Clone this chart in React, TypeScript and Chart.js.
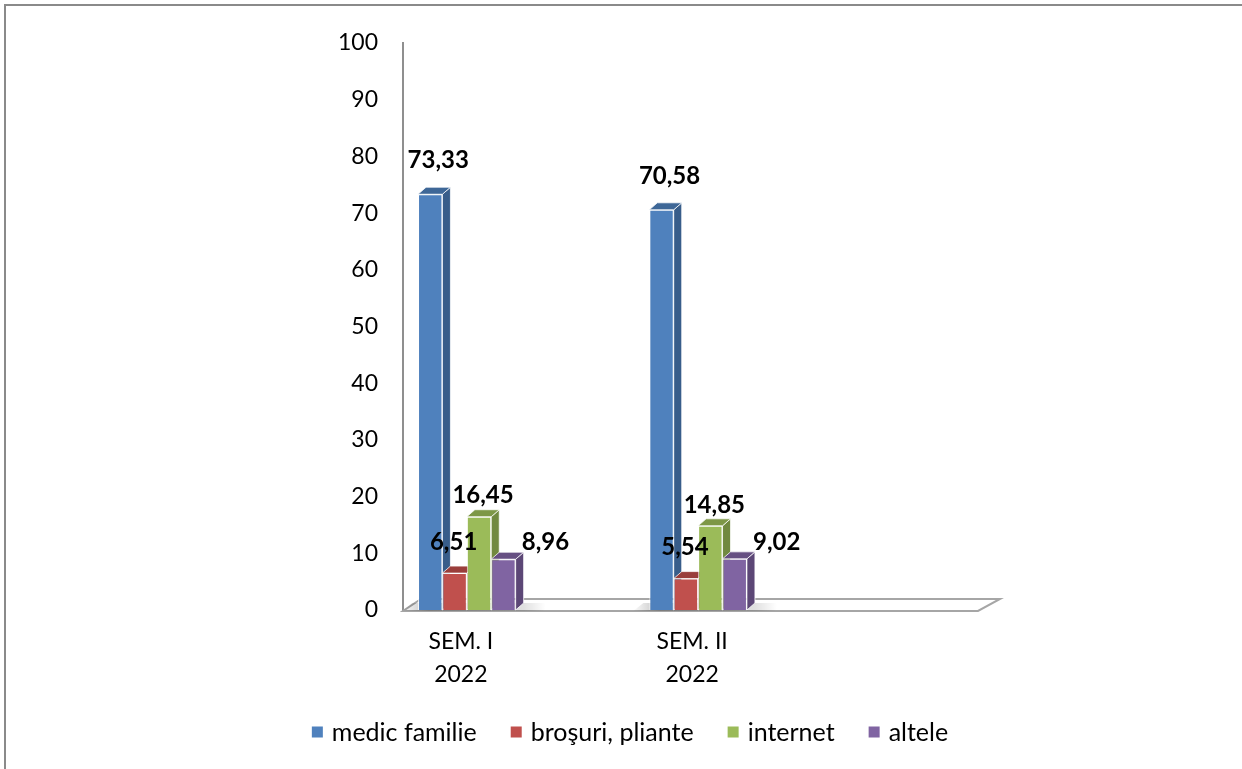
import React, { useEffect, useRef } from "react";
import { Chart, registerables } from "chart.js";

Chart.register(...registerables);

// ---- data ----
const categoryLabels: string[][] = [
  ["SEM. I", "2022"],
  ["SEM. II", "2022"],
];
const seriesNames = ["medic familie", "broşuri, pliante", "internet", "altele"];
const medicFamilie = [73.33, 70.58];
const brosuriPliante = [6.51, 5.54];
const internet = [16.45, 14.85];
const altele = [8.96, 9.02];
const yTickValues = [0, 10, 20, 30, 40, 50, 60, 70, 80, 90, 100];

const frontColors = ["#4F81BD", "#C0504D", "#9BBB59", "#8064A2"];
const sideColors = ["#385D8A", "#8C3836", "#71893F", "#5C4776"];
const topColors = ["#3E6797", "#9A3E3B", "#7D9746", "#664F82"];

const FONT = "Lato, 'Liberation Sans', sans-serif";

const labelOffsets = [
  { dx: 8, dy: 34 },
  { dx: -1, dy: 31 },
  { dx: 4, dy: 21 },
  { dx: 42, dy: 17 },
];

const DEPTH_X = 8;
const DEPTH_Y = 7;

const LEGEND = { centerX: 630, centerY: 732, box: 11, gapText: 9, gapItem: 34, fontSize: 25 };

const threeDPlugin = {
  id: "threeD",
  beforeDraw(chart: any) {
    const ctx = chart.ctx;
    ctx.save();
    ctx.fillStyle = "#ffffff";
    ctx.fillRect(0, 0, chart.width, chart.height);
    ctx.strokeStyle = "#8a8a8a";
    ctx.lineWidth = 2;
    ctx.strokeRect(5, 5, chart.width + 20, chart.height + 20);
    ctx.restore();
  },
  beforeDatasetsDraw(chart: any) {
    const ctx = chart.ctx;
    const { left, right, bottom } = chart.chartArea;
    ctx.save();
    // floor
    ctx.fillStyle = "#ffffff";
    ctx.strokeStyle = "#a6a6a6";
    ctx.lineWidth = 2;
    ctx.beginPath();
    ctx.moveTo(left, bottom + 1);
    ctx.lineTo(right, bottom + 1);
    ctx.lineTo(right + 22, bottom - 11);
    ctx.lineTo(left + 18, bottom - 11);
    ctx.closePath();
    ctx.fill();
    ctx.stroke();

    const bars: any[] = [];
    chart.data.datasets.forEach((_: any, di: number) => {
      const meta = chart.getDatasetMeta(di);
      meta.data.forEach((bar: any) => {
        const p = bar.getProps(["x", "y", "base", "width"], true);
        bars.push({ ...p, di });
      });
    });
    // soft shadow on the floor
    bars.forEach((b) => {
      if (b.di !== 0) return;
      const l = b.x - b.width / 2;
      const g = ctx.createLinearGradient(l - 18, 0, l + 4 * b.width + 30, 0);
      g.addColorStop(0, "rgba(0,0,0,0.0)");
      g.addColorStop(0.2, "rgba(0,0,0,0.25)");
      g.addColorStop(0.85, "rgba(0,0,0,0.12)");
      g.addColorStop(1, "rgba(0,0,0,0.0)");
      ctx.fillStyle = g;
      ctx.beginPath();
      ctx.moveTo(l - 16, b.base + 1);
      ctx.lineTo(l + 4 * b.width + 28, b.base + 1);
      ctx.lineTo(l + 4 * b.width + 36, b.base - 7);
      ctx.lineTo(l - 6, b.base - 7);
      ctx.closePath();
      ctx.fill();
    });
    ctx.lineWidth = 1;
    ctx.strokeStyle = "rgba(255,255,255,0.75)";
    // side faces
    bars.forEach((b) => {
      const r = b.x + b.width / 2;
      ctx.fillStyle = sideColors[b.di];
      ctx.beginPath();
      ctx.moveTo(r, b.y);
      ctx.lineTo(r + DEPTH_X, b.y - DEPTH_Y);
      ctx.lineTo(r + DEPTH_X, b.base - DEPTH_Y);
      ctx.lineTo(r, b.base);
      ctx.closePath();
      ctx.fill();
      ctx.stroke();
    });
    // top faces
    bars.forEach((b) => {
      const l = b.x - b.width / 2;
      const r = b.x + b.width / 2;
      ctx.fillStyle = topColors[b.di];
      ctx.beginPath();
      ctx.moveTo(l, b.y);
      ctx.lineTo(l + DEPTH_X, b.y - DEPTH_Y);
      ctx.lineTo(r + DEPTH_X, b.y - DEPTH_Y);
      ctx.lineTo(r, b.y);
      ctx.closePath();
      ctx.fill();
      ctx.stroke();
    });
    ctx.restore();
  },
  afterDatasetsDraw(chart: any) {
    const ctx = chart.ctx;
    ctx.save();
    ctx.font = `bold 24px ${FONT}`;
    ctx.fillStyle = "#000000";
    ctx.textAlign = "center";
    ctx.textBaseline = "middle";
    chart.data.datasets.forEach((ds: any, di: number) => {
      const meta = chart.getDatasetMeta(di);
      meta.data.forEach((bar: any, i: number) => {
        const p = bar.getProps(["x", "y"], true);
        const v = ds.data[i].y;
        const txt = v.toFixed(2).replace(".", ",");
        ctx.fillText(txt, p.x + labelOffsets[di].dx, p.y - labelOffsets[di].dy);
      });
    });
    ctx.restore();
  },
  afterDraw(chart: any) {
    // legend
    const ctx = chart.ctx;
    ctx.save();
    ctx.font = `${LEGEND.fontSize}px ${FONT}`;
    ctx.textBaseline = "middle";
    ctx.textAlign = "left";
    const items = chart.data.datasets.map((ds: any) => ({
      text: ds.label,
      color: ds.backgroundColor,
      w: ctx.measureText(ds.label).width,
    }));
    const total =
      items.reduce((s: number, it: any) => s + LEGEND.box + LEGEND.gapText + it.w, 0) +
      LEGEND.gapItem * (items.length - 1);
    let x = LEGEND.centerX - total / 2;
    items.forEach((it: any) => {
      ctx.fillStyle = it.color;
      ctx.fillRect(x, LEGEND.centerY - LEGEND.box / 2, LEGEND.box, LEGEND.box);
      x += LEGEND.box + LEGEND.gapText;
      ctx.fillStyle = "#000000";
      ctx.fillText(it.text, x, LEGEND.centerY + 1);
      x += it.w + LEGEND.gapItem;
    });
    ctx.restore();
  },
};

export default function App() {
  const canvasRef = useRef<HTMLCanvasElement | null>(null);

  useEffect(() => {
    const canvas = canvasRef.current;
    if (!canvas) return;
    const seriesValues = [medicFamilie, brosuriPliante, internet, altele];
    const chart = new Chart(canvas, {
      type: "bar",
      data: {
        datasets: seriesValues.map((vals, di) => ({
          label: seriesNames[di],
          data: vals.map((v, i) => ({ x: i, y: v })),
          backgroundColor: frontColors[di],
          borderColor: "rgba(255,255,255,0.8)",
          borderWidth: 1,
          categoryPercentage: 0.422,
          barPercentage: 1,
        })),
      },
      options: {
        responsive: false,
        animation: false,
        layout: { padding: { left: 0, top: 43, right: 264, bottom: 63 } },
        scales: {
          x: {
            type: "linear",
            offset: false,
            min: -0.276,
            max: 2.21,
            grid: { display: false, drawTicks: false, offset: false },
            border: { display: false },
            ticks: {
              stepSize: 1,
              includeBounds: false,
              autoSkip: false,
              maxRotation: 0,
              padding: 15,
              labelOffset: -6,
              color: "#000000",
              font: { family: FONT, size: 23, lineHeight: "33px" },
              callback: (value: any) => {
                const idx = Number(value);
                return Number.isInteger(idx) && categoryLabels[idx] ? categoryLabels[idx] : "";
              },
            },
          },
          y: {
            min: 0,
            max: 100,
            afterFit: (scale: any) => {
              scale.width = 403;
            },
            afterBuildTicks: (scale: any) => {
              scale.ticks = yTickValues.map((v) => ({ value: v }));
            },
            grid: { display: false, drawTicks: false },
            border: { display: true, color: "#8f8f8f", width: 2 },
            ticks: {
              padding: 25,
              color: "#000000",
              font: { family: FONT, size: 23 },
            },
          },
        },
        plugins: {
          legend: { display: false },
          tooltip: { enabled: false },
        },
      },
      plugins: [threeDPlugin],
    });
    return () => chart.destroy();
  }, []);

  return (
    <div style={{ position: "fixed", left: 0, top: 0, width: 1242, height: 769, background: "#fff" }}>
      <canvas ref={canvasRef} width={1242} height={769} style={{ display: "block" }} />
    </div>
  );
}
